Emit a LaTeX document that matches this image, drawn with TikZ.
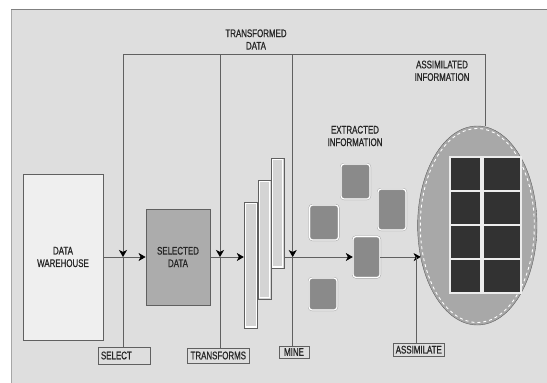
\documentclass[tikz,border=0pt]{standalone}
\usepackage{fontspec}
\usepackage{tikz}
\usetikzlibrary{positioning,arrows.meta,shapes.geometric,calc}
\newfontfamily\diafont{Liberation Sans}[FakeStretch=0.72, FakeBold=0.8]
\definecolor{panel}{RGB}{222,222,222}
\definecolor{edge}{RGB}{96,96,96}
\definecolor{whfill}{RGB}{239,239,239}
\definecolor{selfill}{RGB}{172,172,172}
\definecolor{barfill}{RGB}{212,212,212}
\definecolor{infofill}{RGB}{138,138,138}
\definecolor{ellfill}{RGB}{168,168,168}
\definecolor{cellfill}{RGB}{50,50,50}
\tikzset{
  txt/.style={align=center, inner sep=0pt, text=black!85, font=\diafont\fontsize{11}{12.5}\selectfont},
  box/.style={draw=edge, fill=#1, align=center, inner sep=0pt, text=black!85, font=\diafont\fontsize{11}{12.5}\selectfont},
  box/.default={whfill},
  bar/.style={draw=edge, fill=barfill, inner sep=0pt,
    path picture={\draw[white, line width=1.2pt]
      ($(path picture bounding box.south west)+(1.3pt,1.3pt)$) rectangle
      ($(path picture bounding box.north east)-(1.3pt,1.3pt)$);}},
  info/.style={draw=gray!75, double=white, double distance=1.2pt, rounded corners=3pt, fill=infofill, inner sep=0pt},
  cell/.style={draw=white!85!gray, line width=1.4pt, fill=cellfill, minimum height=34pt, inner sep=0pt},
  ell/.style={ellipse, draw=edge, fill=ellfill, inner sep=0pt, outer sep=0pt},
  tag/.style={draw=edge, fill=panel, inner xsep=2.5pt, inner ysep=1pt, text=black!85, font=\diafont\fontsize{11}{12.5}\selectfont},
  line/.style={draw=edge, line width=0.6pt},
  arrow/.style={-{Stealth[length=7pt, width=8pt, inset=2pt, black]}, draw=edge, line width=0.6pt}
}
\begin{document}
\begin{tikzpicture}[x=1pt, y=-1pt]
  \useasboundingbox (0,0) rectangle (547,383);
  \fill[panel] (11,10) rectangle (547,383);
  \draw[gray!70] (11,383) -- (11,10);
  \draw[gray, line width=1.2pt] (11,9.6) -- (547,9.6);

  % store and selection
  \node[box] (wh) at (63,257) [minimum width=80pt, minimum height=166pt] {DATA\\WAREHOUSE};
  \node[box={selfill}] (sel) at (178,257) [minimum width=64.5pt, minimum height=96pt] {SELECTED\\DATA};

  % transformed data
  \node[bar] (bar1) at (250.75,265) [minimum width=13.5pt, minimum height=126.6pt] {};
  \node[bar] (bar2) at (264.5,239.5) [minimum width=13pt, minimum height=119pt] {};
  \node[bar] (bar3) at (277.75,213) [minimum width=12.5pt, minimum height=110.6pt] {};

  % extracted information
  \node[info] (sq1) at (324,222.5) [minimum width=29pt, minimum height=35pt] {};
  \node[info] (sq2) at (355.5,181.5) [minimum width=29pt, minimum height=35pt] {};
  \node[info] (sq3) at (392,209.5) [minimum width=28pt, minimum height=41pt] {};
  \node[info] (sq4) at (366.5,257) [minimum width=27pt, minimum height=41pt] {};
  \node[info] (sq5) at (323,294) [minimum width=28pt, minimum height=32pt] {};

  % assimilated information
  \node[ell] (ell) at (477.3,225.5) [minimum width=119.4pt, minimum height=199pt] {};
  \draw[white, dashed, line width=0.9pt] (ell.center) ellipse [x radius=57, y radius=97];
  \foreach \r in {0,...,3}{
    \node[cell, minimum width=31pt] (cl\r) at (465.5,174+34*\r) {};
    \node[cell, minimum width=38pt] (cr\r) at (502,174+34*\r) {};
  }

  % labels
  \node[txt] (tdata) at (256,39.5) {TRANSFORMED\\DATA};
  \node[txt] (asminfo) at (442,70.8) {ASSIMILATED\\INFORMATION};
  \node[txt] (extinfo) at (355,136) {EXTRACTED\\INFORMATION};

  \node[tag, minimum width=52pt, minimum height=17.6pt, text width=46pt, align=left] (selbox) at (124,355.5) {SELECT};
  \node[tag, minimum width=62.5pt, minimum height=15.6pt] (trbox) at (218.3,355.5) {TRANSFORMS};
  \node[tag, minimum width=30pt, minimum height=12.6pt] (minebox) at (294,352) {MINE};
  \node[tag, minimum width=50.4pt, minimum height=12.7pt] (asmbox) at (418.8,349.7) {ASSIMILATE};

  % control lines
  \coordinate (seltop) at (123,54.3);
  \coordinate (selj) at (123,257);
  \coordinate (trtop) at (220,54.3);
  \coordinate (trj) at (220,257);
  \coordinate (minetop) at (292.7,54.3);
  \coordinate (minej) at (292.7,257);
  \coordinate (asmtop) at (485,54.3);
  \coordinate (asmj) at (416,257);

  \draw[line] (seltop) -- (asmtop) -- (asmtop |- ell.north);
  \draw[arrow] (seltop) -- (selj);
  \draw[line] (selj) -- (selj |- selbox.north);
  \draw[arrow] (trtop) -- (trj);
  \draw[line] (trj) -- (trj |- trbox.north);
  \draw[arrow] (minetop) -- (minej);
  \draw[line] (minej) -- (minej |- minebox.north);

  % main flow
  \draw[arrow] (wh) -- (sel);
  \draw[arrow] (sel.east) -- (sel.east -| bar1.west);
  \draw[arrow] (bar3.east |- sq4.west) -- (sq4.west);
  \draw[line] (sq4.east) -- (asmj);
  \draw[arrow] (asmj) -- (ell.209);
  \draw[line] (asmj) -- (asmj |- asmbox.north);
\end{tikzpicture}
\end{document}
